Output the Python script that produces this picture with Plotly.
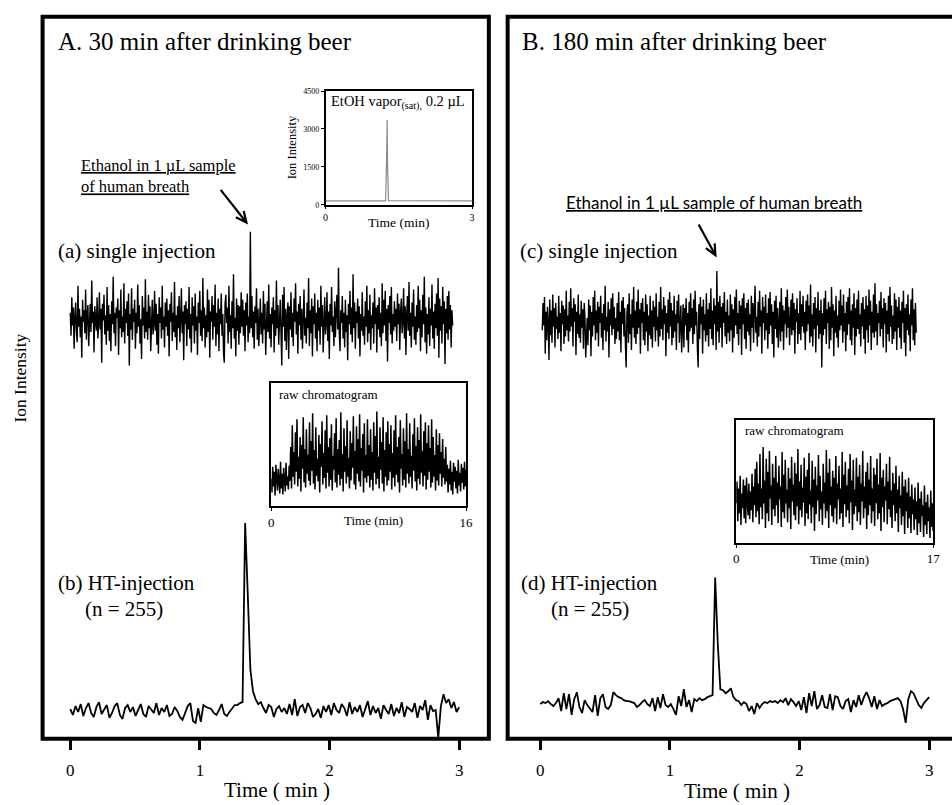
import numpy as np
import plotly.graph_objects as go

W, H = 952, 805
def px(x): return x / W
def py(y): return 1 - y / H

SERIF = "Liberation Serif, Times New Roman, serif"
SANS = "Lato, Carlito, Open Sans, sans-serif"

# ---------------- data (arbitrary intensity units) ----------------
# (a) single injection, 30 min
a_time_end = 2.95
a_vals = [6, -12, 18, -4, 10, -22, 2, 14, -8, -17, 27, -5, 9, -13, 3, -29, 16, -1, 8, -10, 24, -15, 5, 12, -20,
          -6, 13, -9, 31, -2, 7, -25, 11, 1, -8, 18, -14, -3, 22, -7, 9, -33, 13, 0, 20, -11, 4, -19, 26, -8,
          12, -16, 5, -24, 15, -3, 34, -10, 6, -20, 10, 2, 17, -27, 8, -6, 24, -13, 3, -9, 29, -18, 9, -2, 15,
          -12, 21, -35, 5, -7, 25, -15, 9, -1, 16, -22, 6, -10, 28, -5, 12, -18, 1, -30, 19, -4, 10, -14, 32, -9,
          7, -15, 20, -6, 11, -24, 4, 16, -11, -3, 23, -8, 13, -19, 5, -26, 18, -2, 10, -14, 27, -7, 3, -21, 14,
          -5, 17, -12, 8, -28, 13, -1, 22, -16, 6, -9, 30, -13, 4, -23, 11, -6, 19, -17, 2, 25, -10, 7, -31, 12,
          -3, 15, -20, 9, -7, 26, -14, 5, -25, 18, -4, 11, -18, 21, -8, 3, -27, 14, -2, 23, -12, 8, -16, 33, -6,
          10, -21, 4, -13, 24, -9, 16, -29, 7, -1, 19, -15, 12, -5, 28, -20, 6, -11, 17, -24, 9, -3, 21, -12, 5,
          -26, -33, 13, 20, -2, 10, -18, 27, -9, 4, -22, 15, -6, 36, -14, 2, -28, 17, -8, 12, -19, 11, -10, 22, -5,
          16, -12, 8, -24, 14, -4, 21, -17, 3, -10, 69, -6, 19, -13, 7, -22, 11, -2, 25, -15, 9, -20, 4, 17, -11,
          6, -18, 23, -7, 13, -27, 2, 15, -9, 28, -14, 5, -21, 10, -3, 18, -25, 8, -12, 31, -6, 12, -19, 4, 16,
          -10, -35, 20, -5, 26, -16, 9, -23, 3, 14, -30, 11, -7, 22, -13, 6, -20, 17, -1, 29, -11, 7, -26, 13, -4,
          19, -15, 9, -22, 5, 24, -12, 2, -18, 14, -6, 33, -20, 8, -10, 17, -28, 11, -3, 21, -14, 6, -24, 16, -8,
          10, -19, 27, -5, 12, -25, 4, 18, -11, -2, 22, -16, 7, -30, 13, -4, 26, -9, 3, -20, 15, -13, 8, 20, -7,
          41, -10, -24, 8, -2, 19, -14, 6, -21, 16, -9, 4, -31, 13, -3, 23, -11, 10, -17, 36, -6, 14, -22, 7, -2,
          17, -14, 11, -28, 5, -8, 22, -12, 3, -19, 15, -5, 27, -17, 8, -10, 20, -23, 4, -6, 14, -18, 25, -3, 10,
          -25, 12, -7, 18, -13, 6, -20, 29, -10, 16, -4, 23, -16, 9, -32, 12, -2, 19, -11, 26, -18, 5, -8, 15, -5,
          9, -16, 21, -3, 13, -23, 7, 17, -10, -1, 25, -14, 11, -27, 4, 19, -8, 30, -12, 6, -21, 14, -5, 24, -15,
          3, -19, 12, -9, 27, -6, 16, -24, 8, -13, 20, -3, 34, -17, 10, -26, 5, -11, 18, -20, 9, -4, 28, -14, 7,
          -22, 13, -6, 21, -12, 33, -29, 17, -8, 11, -18, 26, -3, 15, -34, 9, -10, 19, -15, 23, -7, 12, -21, 8, -4]

# (b) HT-injection, 30 min
b_vals = [2, -4, 5, -1, 7, -5, 3, 8, -2, -6, 4, 9, -3, 1, 6, -7, -2, 5, 8, -4, -8, 3, 6, -1, 4,
          -5, 2, 7, -3, -6, 5, 1, -2, 8, -4, 3, -1, 6, -5, -3, 4, 0, -6, -9, -2, 5, 8, -10, -12, 3,
          -11, 6, 4, 3, 2, -2, -4, 1, 7, -3, -5, -1, 2, 6, 6, 8, 9, 190, 118, 42, 20, 12, 7, 9, 3,
          -2, 6, 4, -6, 2, 5, -1, 3, -3, 7, -4, 12, -5, 4, 6, -2, 8, 3, -6, -3, 2, -7, 5, -1, 6,
          -4, 8, 1, -2, 7, 3, -5, 9, -3, 4, -1, 6, -6, 2, 10, -4, 5, -2, 3, -8, 6, 1, -3, 7, -5,
          3, -2, 9, -6, 4, 2, -1, 8, -7, 5, 1, 11, -9, 6, 0, 1, -27, 5, 17, 8, 12, 3, 9, -1, 4]

# (c) single injection, 180 min
c_time_start, c_time_end = 0.015, 2.9
c_vals = [-8, 14, -4, 19, -27, 7, -16, 11, -2, -32, 17, -12, 8, -18, 21, -5, 10, -22, 14, -7, 3, -15, 20, -10, 6,
          -25, 16, -3, 12, -19, 9, -13, 24, -8, 4, -17, 15, -9, 26, -5, 10, -21, 18, -1, 13, -28, 7, -11, 21, -14,
          5, -18, 16, -6, 9, -23, 14, 2, -30, -10, 2, -20, 17, -8, 12, -29, 7, -13, 19, -4, 24, -16, 8, -10, 15,
          -21, 11, -2, 20, -14, 6, -24, 13, -8, 28, -17, 3, -9, 15, -30, 9, -4, 18, -12, 22, -7, 11, -19, 2, -15,
          14, -9, 23, -16, 7, -26, 16, -3, 19, -13, 10, -20, -38, 6, 13, -18, 22, -11, 5, -24, 17, -6, 27, -14, 8,
          -19, 15, -11, 25, -6, 9, -27, 14, -2, 18, -16, 7, -20, 21, -9, 13, -25, 4, -12, 20, -15, 8, -22, 16, -5,
          11, -17, 22, -8, 3, -21, 15, -13, 27, -7, 9, -16, 19, -3, 12, -29, 6, -10, 17, -15, 23, -5, 14, -20, 8,
          -14, 20, -9, 5, -24, 16, -2, 21, -18, 9, 12, -26, -8, 13, -22, 10, -4, 18, -16, 6, -26, 15, -9, 22, -6,
          10, -19, 17, -11, 24, -4, 7, -22, -38, 13, -15, 19, -3, 11, -27, 17, -8, 5, -17, 22, -12, 9, -21, 14, -7,
          26, -15, 8, -20, 18, -3, 12, -24, 40, -9, 15, -18, 20, -6, 11, -22, 14, -2, 23, -13, 7, -19, 17, -10, 4,
          -17, 21, -8, 13, -26, 9, -14, 19, -4, 25, -11, 6, -20, 16, -7, 12, -28, 18, -3, 22, -15, 10, -23, 14, -9,
          17, -12, 5, -25, 20, -6, 14, -18, 9, 28, -10, 3, -21, 15, -13, 24, -5, 8, -27, 19, -2, 11, -16, 21, -8,
          6, -23, 18, -11, 23, -4, 13, -19, 7, -30, 16, -7, 20, -14, 10, -22, 4, 15, -17, 26, -9, 12, -24, 8, -3,
          19, -14, 25, -6, 11, -20, 3, 17, -12, 22, -8, 14, -27, 9, -1, 18, -19, 6, -11, 24, -16, 13, -5, 20, -10,
          7, -24, 16, -9, 21, -3, 12, -18, 29, -13, 5, -21, 14, -7, 19, -26, 10, -4, 23, -15, 8, -11, 17, -38, 6,
          -12, 18, -7, 24, -19, 9, -2, 15, -23, 11, -16, 27, -6, 13, -29, 8, -10, 20, -14, 4, -22, 16, -8, 25, -4,
          12, -18, 21, -9, 6, -25, 15, -12, 19, -3, 26, -16, 8, -20, 13, -6, 22, -28, 10, -13, 17, -7, 24, -11, 5,
          -21, 14, -5, 19, -15, 9, -27, 20, -8, 12, -18, 25, -4, 16, -24, 7, -10, 21, -14, 30, -9, 13, -20, 6, -2,
          16, -13, 23, -7, 10, -22, 18, -3, 14, -26, 8, -11, 20, -17, 27, -5, 12, -19, 4, -15, 22, -9, 17, -24, 11,
          -6, 19, -14, 8, -23, 15, -2, 24, -18, 10, -29, 13, -8, 21, -12, 5, -25, 17, -4, 26, -16, 9, -20, 14, -10]

# (d) HT-injection, 180 min
d_vals = [-1, 1, 0, 2, -1, -3, 0, 5, -8, 10, -6, 9, -12, 4, 11, -4, -10, 3, -2, -6, -9, 8, -13, 5, 9,
          -4, -6, -2, 11, 8, 6, 5, 3, 2, 2, 1, 0, -4, -2, 1, 3, -1, -3, 5, -8, 6, -5, 9, -2, -4,
          -1, -6, -12, 7, -3, 14, -4, 3, -9, 4, 2, 5, 3, 4, 6, 7, 8, 127, 60, 14, 13, 10, 12, 15, 6,
          3, 2, -2, 1, -1, -8, -3, -11, 0, -5, -1, 1, 0, 2, 1, 2, 0, 3, 1, 5, -2, 4, 1, -3, 2,
          -7, 6, -10, 10, -3, 12, -6, -2, 8, -4, -5, 9, -7, 7, 6, -3, -6, 2, 4, -9, 3, -4, 8, -2, 6,
          11, 5, -4, 7, -6, 3, -3, -1, 0, 2, 3, 4, 5, 2, -6, -20, 4, 12, 10, 4, -2, -5, 0, 3, 6]

# inset: EtOH vapor(sat) 0.2 uL standard
etoh_time = [0, 1.23, 1.25, 1.26, 1.27, 1.29, 3.0]
etoh_vals = [150, 150, 1800, 3350, 1500, 160, 150]

# raw chromatogram, 30 min (0-16 min)
rawA_end = 16
rawA_vals = [28, 14, 40, 20, 35, 11, 42, 24, 16, 38, 22, 13, 45, 18, 33, 12, 39, 25, 15, 44, 21, 30, 17, 41, 26,
             60, 18, 82, 30, 55, 22, 75, 35, 88, 20, 50, 28, 70, 15, 62, 38, 90, 24, 58, 19, 78, 33, 52, 26, 85,
             21, 66, 36, 94, 23, 57, 17, 80, 31, 48, 25, 72, 14, 63, 40, 86, 22, 54, 29, 77, 18, 92, 34, 60, 20,
             69, 27, 83, 16, 51, 37, 74, 24, 89, 19, 58, 32, 67, 21, 95, 28, 53, 15, 79, 35, 61, 23, 87, 30, 49,
             18, 76, 26, 64, 39, 91, 22, 56, 17, 81, 33, 68, 25, 93, 20, 59, 36, 73, 14, 84, 29, 52, 24, 88, 31,
             62, 19, 78, 27, 55, 16, 85, 34, 71, 22, 96, 28, 50, 18, 80, 37, 65, 23, 90, 15, 57, 30, 75, 21, 86,
             26, 63, 35, 82, 17, 54, 29, 77, 20, 92, 32, 60, 24, 70, 14, 87, 38, 53, 21, 79, 27, 66, 19, 94, 33,
             58, 23, 84, 30, 51, 18, 73, 36, 89, 25, 61, 16, 80, 28, 67, 22, 93, 34, 56, 20, 76, 31, 85, 17, 64,
             27, 82, 35, 59, 19, 88, 24, 70, 30, 52, 16, 78, 26, 62, 21, 74, 33, 55, 20, 68, 29, 48, 22, 60, 25,
             42, 14, 38, 22, 46, 16, 35, 12, 44, 25, 40, 18, 36, 13, 47, 21, 34, 15, 43, 24, 39, 17, 45, 20, 37]

# raw chromatogram, 180 min (0-17 min)
rawB_end = 17
rawB_vals = [40, 62, 22, 55, 30, 68, 18, 50, 35, 64, 25, 58, 20, 66, 42, 28, 60, 24, 52, 33, 70, 21, 57, 38, 75,
             26, 82, 32, 60, 19, 90, 36, 55, 24, 97, 40, 63, 15, 85, 30, 72, 22, 93, 45, 58, 18, 80, 34, 66, 27,
             88, 38, 61, 20, 78, 44, 57, 16, 92, 31, 69, 25, 84, 40, 54, 21, 76, 35, 65, 14, 87, 42, 59, 28, 81,
             23, 70, 37, 95, 19, 62, 33, 79, 26, 56, 41, 86, 17, 67, 30, 74, 24, 91, 39, 53, 20, 83, 36, 64, 12,
             77, 29, 58, 43, 89, 22, 68, 34, 52, 18, 80, 40, 61, 25, 94, 32, 71, 15, 85, 38, 57, 27, 73, 21, 66,
             35, 88, 19, 60, 44, 78, 24, 55, 30, 92, 16, 69, 39, 82, 26, 58, 33, 75, 20, 90, 41, 63, 13, 84, 29,
             54, 37, 86, 22, 67, 31, 79, 18, 60, 42, 93, 25, 57, 35, 72, 14, 81, 28, 64, 38, 88, 20, 55, 32, 76,
             17, 69, 40, 85, 24, 59, 30, 91, 12, 66, 36, 74, 21, 57, 43, 80, 19, 62, 34, 87, 26, 53, 15, 71, 38,
             60, 22, 78, 30, 54, 11, 68, 35, 48, 18, 72, 27, 57, 9, 64, 32, 51, 15, 66, 25, 47, 10, 59, 29, 44,
             13, 56, 24, 42, 8, 61, 20, 45, 11, 52, 27, 38, 6, 58, 18, 41, 9, 49, 22, 36, 5, 53, 16, 40, 12]

main_ticks = [0, 1, 2, 3]

# sampling times
t_a = np.linspace(0, a_time_end, len(a_vals))
t_b = np.linspace(0, 3.0, len(b_vals))
t_c = np.linspace(c_time_start, c_time_end, len(c_vals))
t_d = np.linspace(0, 3.0, len(d_vals))
t_rawA = np.linspace(0, rawA_end, len(rawA_vals))
t_rawB = np.linspace(0, rawB_end, len(rawB_vals))

fig = go.Figure()
def line(x, y, xa, ya, width=1.0, color="black"):
    fig.add_trace(go.Scatter(x=x, y=y, xaxis=xa, yaxis=ya, mode="lines",
                             line=dict(color=color, width=width), hoverinfo="skip"))

line(t_b, b_vals, "x", "y", 1.8)
line(t_a, a_vals, "x", "y2", 1.4)
line(t_d, d_vals, "x2", "y3", 1.8)
line(t_c, c_vals, "x2", "y4", 1.4)
line(etoh_time, etoh_vals, "x3", "y5", 1.2, "#8a8a8a")
line(t_rawA, rawA_vals, "x4", "y6", 1.5)
line(t_rawB, rawB_vals, "x5", "y7", 1.5)

main_x = dict(ticks="outside", ticklen=10, tickwidth=3, tickcolor="black", tickvals=main_ticks,
              showline=False, showgrid=False, zeroline=False, ticklabelstandoff=6,
              tickfont=dict(family=SERIF, size=17, color="black"))
hidden_y = dict(visible=False, showgrid=False, zeroline=False)
inset_ax = dict(showline=True, mirror=True, linecolor="black", linewidth=1.5, showgrid=False,
                zeroline=False, ticks="outside", ticklen=3, tickcolor="black")
inset_y_noticks = {k: v for k, v in inset_ax.items() if k != "ticks"}

# main axes: 131 px per minute, 0 min at x=68 (A) and x=543 (B)
fig.update_layout(
    width=W, height=H, margin=dict(l=0, r=0, t=0, b=0),
    paper_bgcolor="white", plot_bgcolor="rgba(0,0,0,0)", showlegend=False,
    xaxis=dict(domain=[px(40), px(491)], range=[(40 - 68) / 131, (491 - 68) / 131], anchor="y", **main_x),
    yaxis=dict(domain=[py(743), py(13)], range=[-28, 702], anchor="x", **hidden_y),
    yaxis2=dict(domain=[py(370), py(220)], range=[-38.5, 77], anchor="x", **hidden_y),
    xaxis2=dict(domain=[px(510), 1.0], range=[(510 - 543) / 131, (952 - 543) / 131], anchor="y3", **main_x),
    yaxis3=dict(domain=[py(743), py(13)], range=[-36, 694], anchor="x2", **hidden_y),
    yaxis4=dict(domain=[py(380), py(220)], range=[-48, 80], anchor="x2", **hidden_y),
    xaxis3=dict(domain=[px(326), px(474)], range=[0, 3], anchor="y5", tickvals=[0, 3],
                tickfont=dict(family=SERIF, size=10, color="black"), **inset_ax),
    yaxis5=dict(domain=[py(203), py(88)], range=[0, 4500], anchor="x3", tickvals=[0, 1500, 3000, 4500],
                tickfont=dict(family=SERIF, size=8, color="black"), **inset_ax),
    xaxis4=dict(domain=[px(271), px(468)], range=[0, rawA_end], anchor="y6", tickvals=[0, rawA_end],
                tickfont=dict(family=SERIF, size=13, color="black"), **inset_ax),
    yaxis6=dict(domain=[py(508), py(383)], range=[0, 125], anchor="x4", showticklabels=False,
                ticks="", **inset_y_noticks),
    xaxis5=dict(domain=[px(741), px(940)], range=[0, rawB_end], anchor="y7", tickvals=[0, rawB_end],
                tickfont=dict(family=SERIF, size=13, color="black"), **inset_ax),
    yaxis7=dict(domain=[py(545), py(421)], range=[0, 124], anchor="x5", showticklabels=False,
                ticks="", **inset_y_noticks),
)

# panel frames
for x0, x1 in [(40, 491), (510, 962)]:
    fig.add_shape(type="rect", xref="paper", yref="paper", x0=px(x0), x1=px(x1), y0=py(743), y1=py(13),
                  line=dict(color="black", width=4), fillcolor="rgba(0,0,0,0)", layer="above")

def txt(x, y, s, size, family=SERIF, xanchor="left", angle=0, align="left"):
    fig.add_annotation(x=px(x), y=py(y), xref="paper", yref="paper", text=s, showarrow=False,
                       xanchor=xanchor, yanchor="middle", textangle=angle, align=align,
                       font=dict(family=family, size=size, color="black"))

txt(17, 378, "Ion Intensity", 17.5, xanchor="center", angle=-90)
txt(54, 38, "A. 30 min after drinking beer", 25)
txt(522, 38, "B. 180 min after drinking beer", 25)
txt(77, 174, "<u>Ethanol in 1 µL sample</u><br><u>of human breath</u>", 16.5)
txt(567, 201, "<u>Ethanol in 1 µL sample of human breath</u>", 17, family=SANS)
txt(54, 250, "(a) single injection", 21)
txt(520, 250, "(c) single injection", 21)
txt(54, 586, "(b) HT-injection", 21)
txt(81, 612, "(n = 255)", 21)
txt(521, 586, "(d) HT-injection", 21)
txt(552, 612, "(n = 255)", 21)
txt(277, 795, "Time ( min )", 21, xanchor="center")
txt(742, 796, "Time ( min )", 21, xanchor="center")
# inset texts
txt(329, 100, "EtOH vapor<sub>(sat),</sub> 0.2 µL", 14.5)
txt(292, 145, "Ion Intensity", 12.5, xanchor="center", angle=-90)
txt(400, 221, "Time (min)", 13.5, xanchor="center")
txt(277, 395, "raw chromatogram", 13)
txt(374, 522, "Time (min)", 13, xanchor="center")
txt(748, 431, "raw chromatogram", 13)
txt(845, 562, "Time (min)", 13, xanchor="center")

# arrows pointing to the ethanol peaks (drawn as paths: shaft + open head)
def arrow(tx, ty, hx, hy, head=12, ang=25):
    d = np.array([hx - tx, hy - ty], float)
    d /= np.hypot(*d)
    back = -d
    pts = []
    for sgn in (1, -1):
        a = np.radians(ang * sgn)
        r = np.array([back[0] * np.cos(a) - back[1] * np.sin(a), back[0] * np.sin(a) + back[1] * np.cos(a)])
        pts.append((hx + head * r[0], hy + head * r[1]))
    P = lambda x, y: f"{px(x):.5f},{py(y):.5f}"
    path = (f"M{P(tx, ty)} L{P(hx, hy)} M{P(*pts[0])} L{P(hx, hy)} L{P(*pts[1])}")
    fig.add_shape(type="path", xref="paper", yref="paper", path=path,
                  line=dict(color="black", width=2.2))

arrow(220, 188, 246, 221)
arrow(703, 223, 720, 254)

fig.write_html("out.html")
